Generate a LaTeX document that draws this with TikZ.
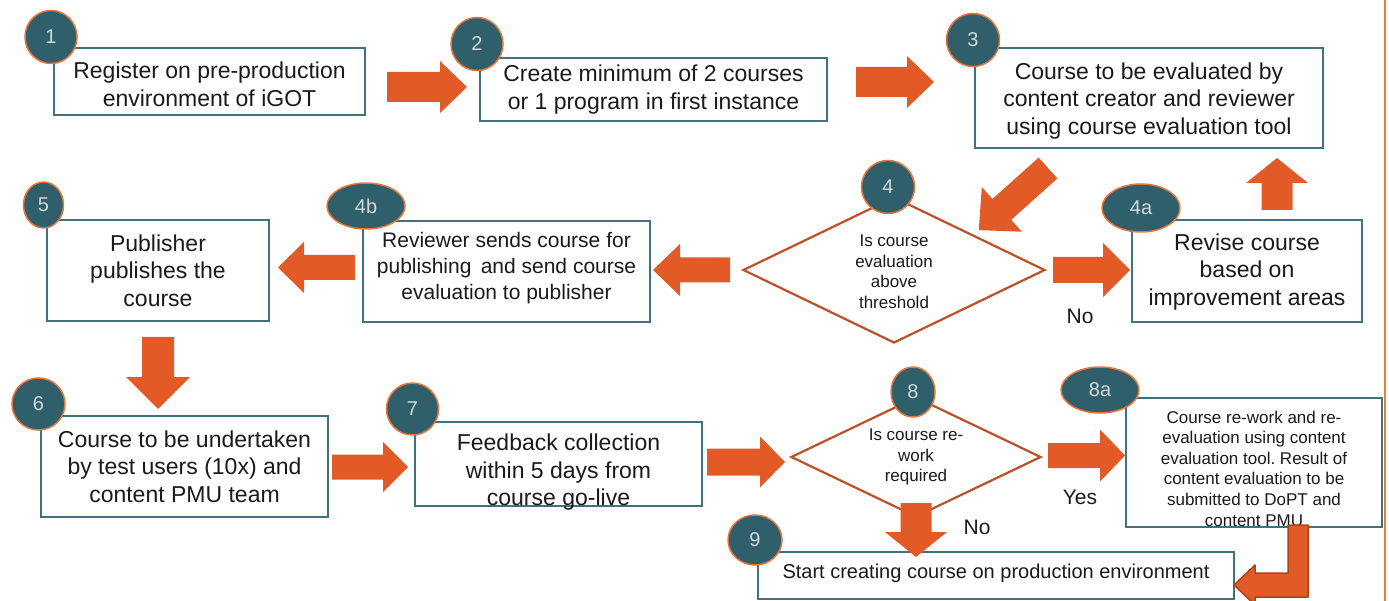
\documentclass[tikz,border=0pt]{standalone}
\usepackage{fontspec}
\setmainfont{Liberation Sans}
\usetikzlibrary{shapes.geometric}
\definecolor{boxc}{RGB}{65,113,125}
\definecolor{numfill}{RGB}{46,95,107}
\definecolor{numborder}{RGB}{232,116,59}
\definecolor{numtext}{RGB}{212,216,218}
\definecolor{arrf}{RGB}{226,91,38}
\definecolor{diac}{RGB}{190,80,40}
\definecolor{bentc}{RGB}{175,65,30}
\definecolor{rlinec}{RGB}{237,125,49}
\definecolor{txtc}{RGB}{26,26,26}
\newcommand\myblockarrow[7]{%
  \begin{scope}[shift={(#1,#2)},rotate=#3]
    \fill[arrf] (0,#5) -- ({#4-#7},#5) -- ({#4-#7},#6) -- (#4,0) -- ({#4-#7},-#6) -- ({#4-#7},-#5) -- (0,-#5) -- cycle;
  \end{scope}}
\frenchspacing
\begin{document}
\begin{tikzpicture}[x=1pt,y=-1pt,
  box/.style={rectangle,draw=boxc,line width=1.4pt,fill=white,inner sep=0pt},
  num/.style={ellipse,draw=numborder,line width=1.5pt,fill=numfill,text=numtext,font=\fontsize{20}{20}\selectfont,inner sep=0pt},
  txt/.style={align=center,text=txtc,inner sep=0pt,font=\fontsize{23}{27.5}\selectfont},
  txtb/.style={txt,font=\fontsize{21}{26}\selectfont},
  dtxt/.style={align=center,text=txtc,inner sep=0pt,font=\fontsize{17}{20.5}\selectfont},
  stxt/.style={align=center,text=txtc,inner sep=0pt,font=\fontsize{17}{20.6}\selectfont},
  lbl/.style={text=txtc,inner sep=0pt,font=\fontsize{21}{21}\selectfont},
  dia/.style={diamond,draw=diac,line width=2.2pt,fill=white,inner sep=0pt}]
\useasboundingbox (0,0) rectangle (1389,601);
\fill[white] (0,0) rectangle (1389,601);

% right edge line
\draw[rlinec,line width=2pt] (1385,0) -- (1385,601);

% boxes
\node[box,minimum width=311pt,minimum height=67pt] (b1) at (209.5,81.5) {};
\node[box,minimum width=347pt,minimum height=63pt] (b2) at (653.5,89.5) {};
\node[box,minimum width=348pt,minimum height=100pt] (b3) at (1149,98) {};
\node[box,minimum width=287pt,minimum height=101pt] (b4b) at (506.5,271.5) {};
\node[box,minimum width=222pt,minimum height=101pt] (b5) at (158,270.5) {};
\node[box,minimum width=230pt,minimum height=102pt] (b4a) at (1247,271) {};
\node[box,minimum width=287pt,minimum height=101pt] (b6) at (184.5,466.5) {};
\node[box,minimum width=287pt,minimum height=84pt] (b7) at (558.5,464) {};
\node[box,minimum width=256pt,minimum height=129pt] (b8a) at (1254,462.5) {};
\node[box,minimum width=476pt,minimum height=47pt] (b9) at (996,575.5) {};

% diamonds
\node[dia,minimum width=302pt,minimum height=146pt] (d4) at (894,270) {};
\node[dia,minimum width=250pt,minimum height=120pt] (d8) at (916,457) {};

% texts
\node[txt] (t1) at ([yshift=-3pt]b1.center) {Register on pre-production\\environment of iGOT};
\node[txt] (t2) at (b2.center) {Create minimum of 2 courses\\or 1 program in first instance};
\node[txt] (t3) at ([yshift=-3pt]b3.center) {Course to be evaluated by\\content creator and reviewer\\using course evaluation tool};
\node[txtb] (t4b) at ([yshift=3pt]b4b.center) {Reviewer sends course for\\publishing\, and send course\\evaluation to publisher};
\node[txt] (t5) at (b5.center) {Publisher\\publishes the\\course};
\node[txt] (t4a) at ([yshift=-1pt]b4a.center) {Revise course\\based on\\improvement areas};
\node[txt] (t6) at (b6.center) {Course to be undertaken\\by test users (10x) and\\content PMU team};
\node[txt] (t7) at ([yshift=-8.5pt]b7.center) {Feedback collection\\within 5 days from\\course go-live};
\node[stxt] (t8a) at ([yshift=-6pt]b8a.center) {Course re-work and re-\\evaluation using content\\evaluation tool. Result of\\content evaluation to be\\submitted to DoPT and\\content PMU};
\node[txt,font=\fontsize{20}{24}\selectfont] (t9) at ([yshift=2pt]b9.center) {Start creating course on production environment};
\node[dtxt] (t4) at ([yshift=-1.5pt]d4.center) {Is course\\evaluation\\above\\threshold};
\node[dtxt] (t8) at (d8.center) {Is course re-\\work\\required};

% labels
\node[lbl] (no1) at (1080,316) {No};
\node[lbl] (yes) at (1080,497) {Yes};
\node[lbl] (no2) at (977,527) {No};

% block arrows
\myblockarrow{387}{87}{0}{80}{15}{26}{27}
\myblockarrow{856}{82}{0}{78}{15}{26}{27}
\myblockarrow{1048}{168}{221.9}{93}{14}{30}{31}
\myblockarrow{1277}{210}{90}{52}{15.5}{31}{25}
\myblockarrow{730}{270}{180}{77}{12.5}{26}{27}
\myblockarrow{355}{267.5}{180}{77}{12.5}{25.5}{26}
\myblockarrow{158}{337}{-90}{72}{16}{32}{32}
\myblockarrow{1053}{270}{0}{77}{13}{27}{27}
\myblockarrow{332}{467}{0}{76}{12.5}{25}{25}
\myblockarrow{707}{462}{0}{78}{13.5}{25.5}{25}
\myblockarrow{1048}{455.5}{0}{77}{12.5}{26}{25}
\myblockarrow{916}{503}{-90}{54}{15.5}{31}{25}

% bent arrow 8a -> 9
\filldraw[fill=arrf,draw=bentc,line width=1.5pt,line join=round] (1288,525) -- (1308,525) -- (1308,597) -- (1255,597) -- (1255,605) -- (1234,585) -- (1255,565) -- (1255,573) -- (1288,573) -- cycle;

% number badges
\node[num,minimum width=52pt,minimum height=53pt] (c1) at (51,37) {1};
\node[num,minimum width=52pt,minimum height=53pt] (c2) at (477,44) {2};
\node[num,minimum width=53pt,minimum height=53pt] (c3) at (973,40) {3};
\node[num,minimum width=53pt,minimum height=53pt] (c4) at (888,187) {4};
\node[num,minimum width=78pt,minimum height=46pt] (c4b) at (366,206) {4b};
\node[num,minimum width=78pt,minimum height=48pt] (c4a) at (1141,208) {4a};
\node[num,minimum width=40pt,minimum height=46pt] (c5) at (43.5,205) {5};
\node[num,minimum width=53pt,minimum height=52pt] (c6) at (38.5,404) {6};
\node[num,minimum width=52pt,minimum height=52pt] (c7) at (412.5,409) {7};
\node[num,minimum width=44pt,minimum height=50pt] (c8) at (913,392) {8};
\node[num,minimum width=78pt,minimum height=46pt] (c8a) at (1100,390) {8a};
\node[num,minimum width=54pt,minimum height=50pt] (c9) at (755,540) {9};
\end{tikzpicture}
\end{document}
